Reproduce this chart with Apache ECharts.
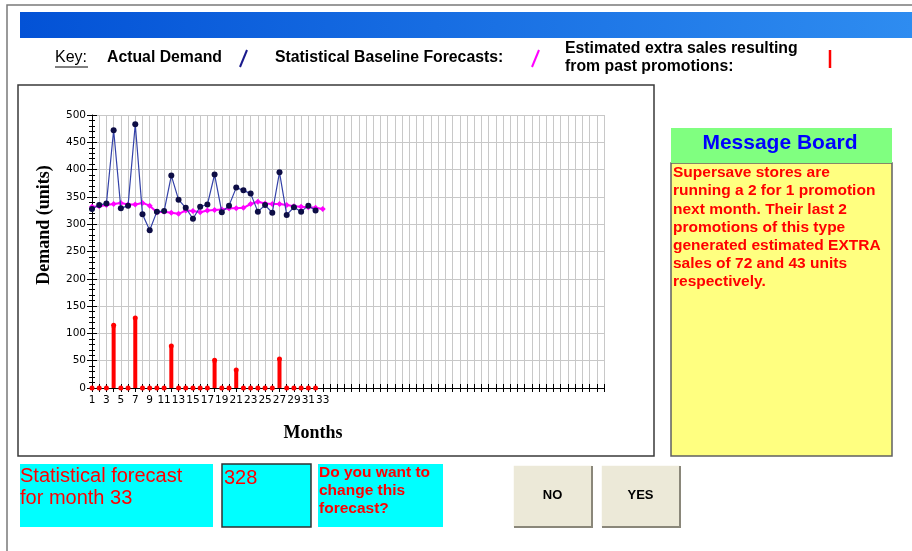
<!DOCTYPE html>
<html>
<head>
<meta charset="utf-8">
<script src="https://cdn.jsdelivr.net/npm/echarts@6/dist/echarts.min.js"></script>
<style>html,body{margin:0;padding:0;background:#fff;}#c{width:912px;height:551px;}</style>
</head>
<body>
<div id="c"></div>
<script>
// ---- data ----
var months = Array.from({length: 72}, function (_, i) { return String(i + 1); });
var xTickLabels = ['1','3','5','7','9','11','13','15','17','19','21','23','25','27','29','31','33'];
var actualDemand = [328, 335, 338, 472, 329, 334, 483, 318, 289, 323, 324, 389, 345, 330, 310, 332,
                    336, 391, 322, 334, 367, 362, 356, 323, 335, 321, 395, 317, 331, 323, 334, 325];
var baselineForecast = [332, 333, 335, 337, 339, 336, 336, 339, 334, 322, 323, 321, 319, 325, 324, 322,
                        325, 326, 327, 329, 329, 330, 337, 341, 338, 337, 337, 335, 333, 332, 331, 330, 328];
var extraSales = [0, 0, 0, 115, 0, 0, 128, 0, 0, 0, 0, 77, 0, 0, 0, 0,
                  0, 51, 0, 0, 33, 0, 0, 0, 0, 0, 53, 0, 0, 0, 0, 0];
var yTicks = {min: 0, max: 500, interval: 50};
var messageLines = ['Supersave stores are', 'running a 2 for 1 promotion', 'next month. Their last 2',
                    'promotions of this type', 'generated estimated EXTRA', 'sales of 72 and 43 units', 'respectively.'];
var forecastMonth = 33;
var forecastValue = 328;

var tickSet = {};
xTickLabels.forEach(function (t) { tickSet[t] = true; });

var chart = echarts.init(document.getElementById('c'));
var SANS = '"Liberation Sans", Arial, sans-serif';
var SERIF = '"Liberation Serif", "Times New Roman", serif';
var AXF = '"DejaVu Sans", sans-serif';

var graphics = [
  // outer frame
  {type: 'polyline', shape: {points: [[7, 551], [7, 5], [912, 5]]}, style: {stroke: '#7a7a7a', lineWidth: 1.5, fill: null}},
  // blue banner
  {type: 'rect', shape: {x: 20, y: 12, width: 892, height: 26},
   style: {fill: new echarts.graphic.LinearGradient(0, 0, 1, 0, [{offset: 0, color: '#0352d6'}, {offset: 1, color: '#2e8cf0'}])}},
  // legend
  {type: 'text', x: 55, y: 58, style: {text: 'Key:', font: '16px ' + SANS, fill: '#000', textVerticalAlign: 'middle'}},
  {type: 'line', shape: {x1: 55, y1: 67, x2: 88, y2: 67}, style: {stroke: '#000', lineWidth: 1}},
  {type: 'text', x: 107, y: 58, style: {text: 'Actual Demand', font: 'bold 15.8px ' + SANS, fill: '#000', textVerticalAlign: 'middle'}},
  {type: 'line', shape: {x1: 240, y1: 67, x2: 247, y2: 50}, style: {stroke: '#1a1a8c', lineWidth: 2}},
  {type: 'text', x: 275, y: 58, style: {text: 'Statistical Baseline Forecasts:', font: 'bold 15.8px ' + SANS, fill: '#000', textVerticalAlign: 'middle'}},
  {type: 'line', shape: {x1: 532, y1: 67, x2: 539, y2: 50}, style: {stroke: '#ff00ff', lineWidth: 2}},
  {type: 'text', x: 565, y: 49, style: {text: 'Estimated extra sales resulting', font: 'bold 15.8px ' + SANS, fill: '#000', textVerticalAlign: 'middle'}},
  {type: 'text', x: 565, y: 67, style: {text: 'from past promotions:', font: 'bold 15.8px ' + SANS, fill: '#000', textVerticalAlign: 'middle'}},
  {type: 'line', shape: {x1: 830, y1: 50, x2: 830, y2: 68}, style: {stroke: '#ff0000', lineWidth: 2.5}},
  // chart panel
  {type: 'rect', shape: {x: 18, y: 85, width: 636, height: 371}, style: {fill: null, stroke: '#3a3a3a', lineWidth: 1.5}},
  // axis titles
  {type: 'text', x: 44, y: 225, rotation: Math.PI / 2,
   style: {text: 'Demand (units)', font: 'bold 18px ' + SERIF, fill: '#000', textAlign: 'center', textVerticalAlign: 'middle'}},
  {type: 'text', x: 313, y: 433, style: {text: 'Months', font: 'bold 18px ' + SERIF, fill: '#000', textAlign: 'center', textVerticalAlign: 'middle'}},
  // message board
  {type: 'rect', shape: {x: 671, y: 163, width: 221, height: 293}, style: {fill: '#ffff80', stroke: '#606060', lineWidth: 1.5}},
  {type: 'rect', shape: {x: 671, y: 128, width: 221, height: 35}, style: {fill: '#80ff80'}},
  {type: 'text', x: 780, y: 143, style: {text: 'Message Board', font: 'bold 21px ' + SANS, fill: '#0000ff', textAlign: 'center', textVerticalAlign: 'middle'}},
  // bottom boxes
  {type: 'rect', shape: {x: 20, y: 464, width: 193, height: 63}, style: {fill: '#00ffff'}},
  {type: 'text', x: 20, y: 476, style: {text: 'Statistical forecast', font: '20px ' + SANS, fill: '#ff0000', textVerticalAlign: 'middle'}},
  {type: 'text', x: 20, y: 498, style: {text: 'for month ' + forecastMonth, font: '20px ' + SANS, fill: '#ff0000', textVerticalAlign: 'middle'}},
  {type: 'rect', shape: {x: 222, y: 464, width: 89, height: 63}, style: {fill: '#00ffff', stroke: '#303030', lineWidth: 1.5}},
  {type: 'text', x: 224, y: 478, style: {text: String(forecastValue), font: '20px ' + SANS, fill: '#ff0000', textVerticalAlign: 'middle'}},
  {type: 'rect', shape: {x: 318, y: 464, width: 125, height: 63}, style: {fill: '#00ffff'}},
  {type: 'text', x: 319, y: 473, style: {text: 'Do you want to', font: 'bold 15.5px ' + SANS, fill: '#ff0000', textVerticalAlign: 'middle'}},
  {type: 'text', x: 319, y: 491, style: {text: 'change this', font: 'bold 15.5px ' + SANS, fill: '#ff0000', textVerticalAlign: 'middle'}},
  {type: 'text', x: 319, y: 509, style: {text: 'forecast?', font: 'bold 15.5px ' + SANS, fill: '#ff0000', textVerticalAlign: 'middle'}}
];

messageLines.forEach(function (line, i) {
  graphics.push({type: 'text', x: 673, y: 173 + i * 18.2,
    style: {text: line, font: 'bold 15.5px ' + SANS, fill: '#ff0000', textVerticalAlign: 'middle'}});
});

function button(x, label) {
  graphics.push({type: 'rect', shape: {x: x, y: 465, width: 79, height: 62}, style: {fill: '#ece9d8'}});
  graphics.push({type: 'polyline', shape: {points: [[x, 527], [x, 465], [x + 79, 465]]}, style: {stroke: '#ffffff', lineWidth: 1.5, fill: null}});
  graphics.push({type: 'polyline', shape: {points: [[x + 1, 527], [x + 79, 527], [x + 79, 466]]}, style: {stroke: '#8a877a', lineWidth: 2, fill: null}});
  graphics.push({type: 'text', x: x + 39.5, y: 495, style: {text: label, font: 'bold 13px ' + SANS, fill: '#000', textAlign: 'center', textVerticalAlign: 'middle'}});
}
button(513, 'NO');
button(601, 'YES');

var option = {
  backgroundColor: '#ffffff',
  animation: false,
  grid: {left: 92, right: 308, top: 115, bottom: 163, containLabel: false},
  xAxis: [{
    type: 'category', data: months, boundaryGap: false,
    axisLine: {lineStyle: {color: '#000', width: 1}},
    axisTick: {show: true, interval: 0, length: 4, lineStyle: {color: '#000'}},
    axisLabel: {interval: 0, margin: 7, fontFamily: AXF, fontSize: 10.5, color: '#000',
      formatter: function (v) { return tickSet[v] ? v : ''; }},
    splitLine: {show: true, interval: 0, lineStyle: {color: '#c8c8c8', width: 1}}
  }, {
    type: 'category', data: months, boundaryGap: false, position: 'bottom',
    axisLine: {show: false},
    axisTick: {show: true, inside: true, interval: 0, length: 4, lineStyle: {color: '#000'}},
    axisLabel: {show: false}, splitLine: {show: false}
  }],
  yAxis: [{
    type: 'value', min: yTicks.min, max: yTicks.max, interval: yTicks.interval,
    axisLine: {show: true, lineStyle: {color: '#000', width: 1}},
    axisTick: {show: true, length: 5, lineStyle: {color: '#000'}},
    minorTick: {show: true, splitNumber: 5, length: 3, lineStyle: {color: '#000'}},
    axisLabel: {margin: 6, fontFamily: AXF, fontSize: 10.5, color: '#000'},
    splitLine: {show: true, lineStyle: {color: '#c8c8c8', width: 1}}
  }, {
    type: 'value', min: yTicks.min, max: yTicks.max, interval: yTicks.interval, position: 'left',
    axisLine: {show: false},
    axisTick: {show: true, inside: true, length: 5, lineStyle: {color: '#000'}},
    minorTick: {show: true, splitNumber: 5, length: 3, lineStyle: {color: '#000'}},
    axisLabel: {show: false}, splitLine: {show: false}
  }],
  series: [{
    name: 'Estimated extra sales', type: 'bar', data: extraSales, barWidth: 4,
    itemStyle: {color: '#ff0000', borderRadius: [2, 2, 0, 0]}, z: 2
  }, {
    name: 'Estimated extra sales markers', type: 'line', data: extraSales,
    lineStyle: {opacity: 0}, symbol: 'circle', symbolSize: 5, showSymbol: true,
    itemStyle: {color: '#ff0000'}, z: 3
  }, {
    name: 'Statistical Baseline Forecasts', type: 'line', data: baselineForecast,
    lineStyle: {color: '#ff00ff', width: 2}, symbol: 'diamond', symbolSize: 6, showSymbol: true,
    itemStyle: {color: '#ff00ff'}, z: 4
  }, {
    name: 'Actual Demand', type: 'line', data: actualDemand,
    lineStyle: {color: '#3341a8', width: 1.2}, symbol: 'circle', symbolSize: 6, showSymbol: true,
    itemStyle: {color: '#0d0d45'}, z: 5
  }],
  graphic: graphics
};
chart.setOption(option);
</script>
</body>
</html>
